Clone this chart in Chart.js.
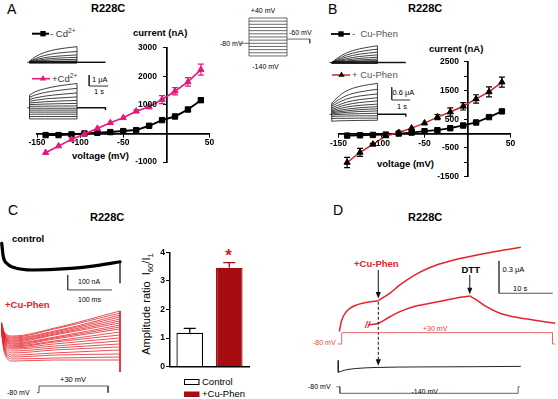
<!DOCTYPE html>
<html><head><meta charset="utf-8"><title>R228C</title>
<script src="https://cdn.jsdelivr.net/npm/chart.js"></script>
<style>
html,body{margin:0;padding:0;background:#fff;}
body{position:relative;width:558px;height:399px;overflow:hidden;font-family:"Liberation Sans",Arial,Helvetica,sans-serif;color:#000;}
canvas{position:absolute;left:0;top:0;}
.t{position:absolute;white-space:nowrap;line-height:1;transform:translateY(-50%);}
.c{transform:translate(-50%,-50%);}
.b{font-weight:bold;}
sup,sub{font-size:0.7em;line-height:0;}
</style></head><body>
<!-- Panel A -->
<div class="t" style="left:7px;top:9px;font-size:14px;">A</div>
<div class="t b" style="left:91px;top:8px;font-size:11px;">R228C</div>
<div class="t" style="left:50px;top:34px;font-size:9.5px;color:#333;">- Cd<sup>2+</sup></div>
<div class="t" style="left:52px;top:79px;font-size:9.5px;color:#333;">+Cd<sup>2+</sup></div>
<div class="t" style="left:92px;top:80px;font-size:7.5px;">1 μA</div>
<div class="t c" style="left:99px;top:92px;font-size:7.5px;">1 s</div>
<div class="t b" style="left:133px;top:33px;font-size:9.5px;">current (nA)</div>
<div class="t b" style="left:72px;top:156px;font-size:9.5px;">voltage (mV)</div>
<div class="t c" style="left:263px;top:10px;font-size:7px;">+40 mV</div>
<div class="t" style="left:289px;top:32px;font-size:7px;">-60 mV</div>
<div class="t" style="left:220px;top:43px;font-size:7px;">-80 mV</div>
<div class="t c" style="left:265.5px;top:66px;font-size:7px;">-140 mV</div>
<!-- Panel B -->
<div class="t" style="left:328px;top:9px;font-size:14px;">B</div>
<div class="t b" style="left:408px;top:8px;font-size:11px;">R228C</div>
<div class="t" style="left:352px;top:34px;font-size:9.5px;color:#555;">-&nbsp; Cu-Phen</div>
<div class="t" style="left:352px;top:75px;font-size:9.5px;color:#555;">+ Cu-Phen</div>
<div class="t" style="left:392.5px;top:93px;font-size:7.5px;">0.6 μA</div>
<div class="t c" style="left:402px;top:107px;font-size:7.5px;">1 s</div>
<div class="t b" style="left:429px;top:49px;font-size:9.5px;">current (nA)</div>
<div class="t b" style="left:377px;top:164px;font-size:9.5px;">voltage (mV)</div>
<!-- Panel C -->
<div class="t" style="left:8px;top:210px;font-size:14px;">C</div>
<div class="t b" style="left:90px;top:217px;font-size:11px;">R228C</div>
<div class="t b" style="left:12px;top:239px;font-size:9.5px;">control</div>
<div class="t" style="left:78px;top:281px;font-size:7px;">100 nA</div>
<div class="t" style="left:78px;top:299px;font-size:7px;">100 ms</div>
<div class="t b" style="left:5px;top:305px;font-size:9.5px;color:#e3242b;">+Cu-Phen</div>
<div class="t" style="left:60px;top:379.5px;font-size:7.5px;">+30 mV</div>
<div class="t" style="left:7px;top:392px;font-size:7px;">-80 mV</div>
<div class="t" style="left:146px;top:304px;font-size:11px;transform:translate(-50%,-50%) rotate(-90deg);">Amplitude ratio&nbsp; I<sub>60</sub>/I<sub>1</sub></div>
<div class="t c b" style="left:228.5px;top:255px;font-size:17px;color:#d7191c;">*</div>
<div class="t" style="left:202px;top:382px;font-size:9.5px;">Control</div>
<div class="t" style="left:202px;top:394px;font-size:9.5px;">+Cu-Phen</div>
<!-- Panel D -->
<div class="t" style="left:333px;top:210px;font-size:14px;">D</div>
<div class="t b" style="left:408px;top:217px;font-size:11px;">R228C</div>
<div class="t b" style="left:354px;top:264px;font-size:9.5px;color:#e3242b;">+Cu-Phen</div>
<div class="t b" style="left:461.5px;top:270px;font-size:9.5px;">DTT</div>
<div class="t" style="left:502.5px;top:270px;font-size:7.5px;">0.3 μA</div>
<div class="t" style="left:513px;top:289px;font-size:7.5px;">10 s</div>
<div class="t" style="left:313px;top:342px;font-size:7px;color:#e04040;">-80 mV</div>
<div class="t" style="left:423px;top:328px;font-size:7px;color:#e04040;">+30 mV</div>
<div class="t b" style="left:365px;top:325px;font-size:9px;font-style:italic;color:#e3242b;">//</div>
<div class="t" style="left:308px;top:386px;font-size:7px;">-80 mV</div>
<div class="t" style="left:411.5px;top:391px;font-size:7px;">-140 mV</div>

<script>
// ================= DATA =================
// Panel A/B: I-V curves (nA) at step voltages (mV)
const voltages = [-140, -125, -110, -95, -80, -65, -50, -35, -20, -5, 10, 25, 40];
const ivA_minusCd     = [-58, -58, -35, 0, 23, 47, 81, 116, 267, 465, 593, 837, 1163];
const ivA_minusCd_err = [0, 0, 0, 0, 0, 0, 0, 0, 20, 25, 30, 40, 70];
const ivA_plusCd      = [-674, -442, -209, -23, 174, 372, 547, 779, 930, 1186, 1477, 1802, 2233];
const ivA_plusCd_err  = [0, 0, 0, 0, 0, 0, 0, 50, 60, 140, 125, 150, 195];
const ivB_minusCuPhen     = [-70, -60, -47, -35, 0, 35, 82, 117, 187, 281, 386, 573, 772];
const ivB_minusCuPhen_err = [0, 0, 0, 0, 0, 0, 0, 0, 0, 20, 20, 30, 45];
const ivB_plusCuPhen      = [-1006, -655, -374, -82, 35, 190, 363, 573, 750, 950, 1205, 1450, 1790];
const ivB_plusCuPhen_err  = [180, 140, 30, 0, 0, 0, 0, 90, 145, 130, 145, 175, 175];
// tick labels
const ivXTickLabels  = [-150, -100, -50, 50];
const ivAYTickLabels = [3000, 2000, 1000, -1000];
const ivBYTickLabels = [2500, 1500, 500, -500, -1500];
const barYTickLabels = [0, 1, 2, 3, 4];

// Inset current families (μA) sampled at insetTimes (s), one row per step voltage (+40 ... -140)
const insetTimes = [0, 0.3, 0.8, 1.5, 2.5];
const insetTailEnd = 4.0;
const famA_minusCd = [
  [0.10, 0.50, 0.90, 1.20, 1.42], [0.06, 0.33, 0.62, 0.84, 0.98], [0.04, 0.22, 0.42, 0.56, 0.67],
  [0.03, 0.14, 0.28, 0.38, 0.45], [0.02, 0.09, 0.17, 0.23, 0.27], [0.01, 0.05, 0.08, 0.10, 0.12],
  [0.00, 0.03, 0.05, 0.06, 0.07], [0.00, 0.01, 0.03, 0.04, 0.04], [0.00, 0.01, 0.01, 0.02, 0.02],
  [-0.01, -0.01, -0.01, -0.01, -0.01], [-0.03, -0.03, -0.03, -0.03, -0.03],
  [-0.05, -0.05, -0.05, -0.05, -0.05], [-0.07, -0.06, -0.06, -0.06, -0.06]
];
const famA_plusCd = [
  [1.15, 1.45, 1.72, 1.97, 2.20], [0.95, 1.15, 1.38, 1.57, 1.76], [0.76, 0.89, 1.05, 1.19, 1.34],
  [0.59, 0.67, 0.79, 0.88, 0.98], [0.43, 0.47, 0.54, 0.60, 0.66], [0.28, 0.30, 0.33, 0.36, 0.39],
  [0.12, 0.13, 0.14, 0.15, 0.16], [-0.05, -0.05, -0.05, -0.05, -0.05], [-0.22, -0.22, -0.22, -0.22, -0.22],
  [-0.40, -0.40, -0.40, -0.40, -0.40], [-0.59, -0.59, -0.59, -0.59, -0.59],
  [-0.80, -0.80, -0.80, -0.80, -0.80], [-1.02, -1.02, -1.02, -1.02, -1.02]
];
const famB_minusCuPhen = [
  [0.00, 0.20, 0.45, 0.64, 0.79], [0.00, 0.14, 0.35, 0.51, 0.63], [0.00, 0.10, 0.26, 0.39, 0.49],
  [0.00, 0.07, 0.18, 0.28, 0.36], [0.00, 0.05, 0.12, 0.19, 0.25], [0.00, 0.03, 0.07, 0.12, 0.16],
  [0.00, 0.02, 0.04, 0.07, 0.09], [0.00, 0.01, 0.03, 0.04, 0.05], [0.00, 0.00, 0.01, 0.02, 0.02],
  [-0.01, -0.01, -0.01, -0.01, -0.01], [-0.02, -0.02, -0.02, -0.02, -0.02],
  [-0.03, -0.03, -0.03, -0.03, -0.03], [-0.04, -0.04, -0.04, -0.04, -0.04]
];
const famB_plusCuPhen = [
  [0.52, 0.78, 1.10, 1.31, 1.46], [0.45, 0.64, 0.88, 1.05, 1.18], [0.38, 0.52, 0.72, 0.86, 0.96],
  [0.30, 0.41, 0.57, 0.69, 0.78], [0.23, 0.32, 0.45, 0.55, 0.63], [0.17, 0.24, 0.34, 0.42, 0.48],
  [0.12, 0.17, 0.24, 0.31, 0.36], [0.07, 0.11, 0.16, 0.22, 0.26], [0.02, 0.05, 0.09, 0.13, 0.16],
  [-0.03, -0.01, 0.01, 0.03, 0.05], [-0.10, -0.09, -0.08, -0.07, -0.07],
  [-0.20, -0.19, -0.19, -0.18, -0.18], [-0.33, -0.31, -0.30, -0.29, -0.28]
];
// voltage protocol (mV)
const protoHold = -80, protoTail = -60;

// Panel C: control trace (ms, nA)
const ctrlTimes   = [0.5, 4, 11.7, 26.6, 71.8, 147, 222, 267.5];
const ctrlCurrent = [0, -89, -133, -160, -178, -169, -145, -123];
const ctrlOffCurrent = -267;
// +Cu-Phen traces (nA) at cuTimes (ms)
const cuTimes = [0, 6, 25, 120, 267.5];
const cuTraces = [
  [53, -13, -40, 13, 127], [47, -20, -47, 7, 113], [47, -20, -53, -7, 100], [40, -27, -60, -13, 87],
  [40, -27, -67, -20, 73], [33, -33, -73, -27, 60], [33, -33, -80, -33, 47], [27, -40, -87, -47, 33],
  [27, -40, -93, -53, 20], [20, -47, -100, -60, 7], [20, -53, -107, -73, -13], [13, -60, -113, -80, -33],
  [13, -67, -120, -93, -53], [7, -73, -127, -107, -73], [7, -80, -140, -120, -93], [0, -93, -153, -133, -113],
  [0, -107, -167, -153, -133], [-7, -120, -180, -167, -160], [-13, -133, -193, -187, -180], [-13, -147, -207, -200, -200]
];
const cuOffCurrent = -280;
const cProtoTimes = [-4.5, 0, 0, 156, 156];
const cProtoMv    = [-80, -80, 30, 30, -80];
// bar chart
const barCats = ['Control', '+Cu-Phen'];
const barVals = [1.19, 3.46];
const barErr  = [0.15, 0.18];

// Panel D: continuous recordings (s, μA)
const dTopTimes   = [0, 0.41, 1.25, 2.74, 4.97, 7.26, 9.44, 11.3, 14.1, 16.9, 20.6, 24.3, 28.1, 33.8];
const dTopCurrent = [0.077, 0.176, 0.26, 0.316, 0.348, 0.365, 0.436, 0.511, 0.604, 0.673, 0.733, 0.775, 0.812, 0.861];
const dMidTimes   = [5.4, 7.26, 9.44, 11.3, 13.78, 16.9, 20.0, 22.5, 24.3, 25.6, 27.4, 29.9, 32.4, 36.1, 40.2];
const dMidCurrent = [0.139, 0.155, 0.216, 0.263, 0.309, 0.341, 0.371, 0.396, 0.409, 0.371, 0.309, 0.248, 0.216, 0.186, 0.155];
const dBotTimes   = [-0.19, 1, 3, 7, 15, 25, 33.8];
const dBotCurrent = [-0.30, -0.28, -0.265, -0.255, -0.25, -0.248, -0.245];
const dBotOnset = -0.19;
const dCuPhenTime = 7.26, dDttTime = 24.3;
const dRedProtoTimes = [-0.3, 0.45, 0.45, 39.7, 39.7, 40.2];
const dRedProtoMv    = [-80, -80, 30, 30, -80, -80];
const dBlkProtoTimes = [-0.5, 0.1, 0.1, 33.3, 33.3, 33.6];
const dBlkProtoMv    = [-80, -80, -140, -140, -80, -80];

// ================= HELPERS =================
const W = 558, H = 399;
Chart.defaults.font.family = '"Liberation Sans", Arial, Helvetica, sans-serif';
Chart.defaults.color = '#000';
const TICK_FONT = 'bold 8.5px "Liberation Sans", Arial, sans-serif';
const PINK = '#e5197b', RED = '#e3242b', DARKRED = '#a50d12';

function newCanvas() {
  const c = document.createElement('canvas');
  c.width = W; c.height = H;
  c.style.width = W + 'px'; c.style.height = H + 'px';
  document.body.appendChild(c);
  return c;
}
function pad(a) { return {left: a.l, top: a.t, right: W - a.r, bottom: H - a.b}; }
function rangeX(a, px0, v0, ppu) { return {min: v0 + (a.l - px0) / ppu, max: v0 + (a.r - px0) / ppu}; }
function rangeY(a, px0, v0, ppu) { return {min: v0 - (a.b - px0) / ppu, max: v0 + (px0 - a.t) / ppu}; }
function pts(xs, ys) { return xs.map((x, i) => ({x: x, y: ys[i]})); }
function ds(xs, ys, color, w, extra) {
  return Object.assign({data: pts(xs, ys), borderColor: color, backgroundColor: color, borderWidth: w,
    pointRadius: 0, tension: 0, fill: false, clip: false}, extra || {});
}
function curve(xs, ys, color, w, extra) { return ds(xs, ys, color, w, Object.assign({cubicInterpolationMode: 'monotone'}, extra || {})); }
function baseOptions(area) {
  return {responsive: false, animation: false, devicePixelRatio: 1, events: [],
    layout: {padding: pad(area)},
    plugins: {legend: {display: false}, tooltip: {enabled: false}, title: {display: false}}};
}
function traceChart(area, xr, yr, datasets, plugins) {
  const opts = baseOptions(area);
  opts.scales = {
    x: {type: 'linear', display: false, min: xr.min, max: xr.max},
    y: {type: 'linear', display: false, min: yr.min, max: yr.max}
  };
  return new Chart(newCanvas(), {type: 'line', data: {datasets: datasets}, options: opts, plugins: plugins || []});
}
function family(times, rows, color, w, tailEnd, tailTick) {
  const t0 = times[0], t1 = times[times.length - 1];
  const out = rows.map(r => curve(times, r, color, w));
  const first = rows.map(r => r[0]), last = rows.map(r => r[r.length - 1]);
  out.push(ds([t0, t0], [Math.min(0, ...first), Math.max(0, ...first)], color, w));
  out.push(ds([t1, t1], [Math.min(0, ...last), Math.max(0, ...last)], color, w));
  out.push(ds([t0 - 0.12, t0], [0, 0], color, w));
  const tx = [t1, tailEnd], ty = [0, 0];
  if (tailTick) { tx.push(tailEnd); ty.push(tailTick); }
  out.push(ds(tx, ty, color, w * 1.8));
  return out;
}
function scaleBar(x0, y0, dx, dy, color) { return ds([x0, x0, x0 + dx], [y0 + dy, y0, y0], color || '#444', 1); }

const errorBarPlugin = {
  id: 'errbars',
  afterDatasetsDraw(chart) {
    const ctx = chart.ctx, ys = chart.scales.y;
    chart.data.datasets.forEach((d, di) => {
      if (!d.errors) return;
      const meta = chart.getDatasetMeta(di);
      ctx.save();
      ctx.lineWidth = d.errorWidth || 1.2;
      meta.data.forEach((el, i) => {
        const e = d.errors[i]; if (!e) return;
        const raw = d.data[i]; const v = (typeof raw === 'object') ? raw.y : raw;
        const col = Array.isArray(d.errorColor) ? d.errorColor[i] : (d.errorColor || '#000');
        ctx.strokeStyle = col;
        const px = el.x, top = ys.getPixelForValue(v + e);
        const bot = d.errorUpOnly ? ys.getPixelForValue(v) : ys.getPixelForValue(v - e);
        const cw = d.errorCap || 3;
        ctx.beginPath();
        ctx.moveTo(px, top); ctx.lineTo(px, bot);
        ctx.moveTo(px - cw, top); ctx.lineTo(px + cw, top);
        if (!d.errorUpOnly) { ctx.moveTo(px - cw, bot); ctx.lineTo(px + cw, bot); }
        ctx.stroke();
      });
      ctx.restore();
    });
  }
};
function axisLabels(xVals, yVals, xAxisAtY, yAxisAtX, xOff, yOff) {
  return {id: 'axisLabels', afterDraw(chart) {
    const ctx = chart.ctx, xs = chart.scales.x, ys = chart.scales.y;
    const axisY = ys.getPixelForValue(xAxisAtY), axisX = xs.getPixelForValue(yAxisAtX);
    ctx.save(); ctx.font = TICK_FONT; ctx.fillStyle = '#000'; ctx.textBaseline = 'middle';
    ctx.textAlign = 'center';
    xVals.forEach(v => ctx.fillText(String(v), xs.getPixelForValue(v), axisY + xOff));
    ctx.textAlign = 'right';
    yVals.forEach(v => ctx.fillText(String(v), axisX - yOff, ys.getPixelForValue(v)));
    ctx.restore();
  }};
}
function marker(ctx, style, x, y, r, color) {
  ctx.fillStyle = color; ctx.beginPath();
  if (style === 'rect') { const s = r * Math.SQRT2; ctx.rect(x - s / 2, y - s / 2, s, s); }
  else { for (let k = 0; k < 3; k++) { const a = k * 2 * Math.PI / 3; ctx.lineTo(x + Math.sin(a) * r, y - Math.cos(a) * r); } ctx.closePath(); }
  ctx.fill();
}
function ivLegend(items) {
  return {id: 'ivLegend', afterDraw(chart) {
    const ctx = chart.ctx;
    items.forEach(it => {
      const d = chart.data.datasets[it.ds];
      ctx.save(); ctx.strokeStyle = d.borderColor; ctx.lineWidth = d.borderWidth;
      ctx.beginPath(); ctx.moveTo(it.x0, it.y); ctx.lineTo(it.x1, it.y); ctx.stroke();
      marker(ctx, d.pointStyle, it.mx, it.y, d.pointRadius, d.pointBackgroundColor);
      ctx.restore();
    });
  }};
}
const axisGrid = {display: true, drawOnChartArea: false, drawTicks: true, tickLength: 3, tickWidth: 1, tickColor: '#000', color: '#000'};
const axisBorder = {display: true, color: '#000', width: 1.7};
function ivChart(area, yMin, yMax, yStep, datasets, yLabels, yOff, legendItems) {
  const opts = baseOptions(area);
  opts.scales = {
    x: {type: 'linear', min: -150, max: 50, position: {y: 0}, ticks: {display: false, stepSize: 50}, grid: axisGrid, border: axisBorder},
    y: {type: 'linear', min: yMin, max: yMax, position: {x: 0}, ticks: {display: false, stepSize: yStep}, grid: axisGrid, border: axisBorder}
  };
  return new Chart(newCanvas(), {type: 'line', data: {datasets: datasets}, options: opts,
    plugins: [errorBarPlugin, axisLabels(ivXTickLabels, yLabels, 0, 0, 9.7, yOff), ivLegend(legendItems)]});
}

// ================= PANEL A =================
ivChart({l: 37, r: 209.5, t: 47.7, b: 162}, -1000, 3000, 1000, [
  ds(voltages, ivA_plusCd, PINK, 1.6, {pointStyle: 'triangle', pointRadius: 3.6, pointBackgroundColor: PINK, pointBorderColor: PINK, pointBorderWidth: 1, errors: ivA_plusCd_err, errorColor: PINK, clip: undefined}),
  ds(voltages, ivA_minusCd, '#000', 2, {pointStyle: 'rect', pointRadius: 3.8, pointBackgroundColor: '#000', pointBorderColor: '#000', pointBorderWidth: 1, errors: ivA_minusCd_err, errorColor: '#000', clip: undefined})
], ivAYTickLabels, 9.5, [
  {ds: 1, x0: 32, x1: 49, mx: 43, y: 33.7},
  {ds: 0, x0: 32, x1: 50, mx: 43, y: 78.7}
]);

const areaA1 = {l: 24, r: 112, t: 38, b: 68};
traceChart(areaA1, rangeX(areaA1, 29.5, 0, 19), rangeY(areaA1, 62.3, 0, 11),
  family(insetTimes, famA_minusCd, '#111', 0.8, insetTailEnd, 0));
const areaA2 = {l: 24, r: 114, t: 70, b: 123};
traceChart(areaA2, rangeX(areaA2, 29.5, 0, 19), rangeY(areaA2, 107.7, 0, 11),
  family(insetTimes, famA_plusCd, '#111', 0.8, insetTailEnd, -0.2).concat([scaleBar(3.14, 1.97, 1, 1, '#333')]));

// voltage protocol
const areaP = {l: 234, r: 318, t: 12, b: 60};
const protoSets = voltages.map(v => ds([0, 2.5], [v, v], '#444', 0.8));
protoSets.push(ds([0, 0], [Math.min(...voltages), Math.max(...voltages)], '#444', 0.8));
protoSets.push(ds([2.5, 2.5], [Math.min(...voltages), Math.max(...voltages)], '#444', 0.8));
protoSets.push(ds([-0.6, 0], [protoHold, protoHold], '#444', 0.8));
protoSets.push(ds([2.5, insetTailEnd, insetTailEnd], [protoTail, protoTail, protoHold], '#444', 0.8));
traceChart(areaP, rangeX(areaP, 249, 0, 15.2), rangeY(areaP, 43.3, -80, 0.211), protoSets);

// ================= PANEL B =================
ivChart({l: 338.5, r: 510.5, t: 61.7, b: 176.7}, -1500, 2500, 500, [
  ds(voltages, ivB_plusCuPhen, '#d0202a', 1.5, {pointStyle: 'triangle', pointRadius: 3.6, pointBackgroundColor: '#000', pointBorderColor: '#000', pointBorderWidth: 1, errors: ivB_plusCuPhen_err, errorColor: '#000', clip: undefined}),
  ds(voltages, ivB_minusCuPhen, '#000', 1.8, {pointStyle: 'rect', pointRadius: 3.8, pointBackgroundColor: '#000', pointBorderColor: '#000', pointBorderWidth: 1, errors: ivB_minusCuPhen_err, errorColor: '#000', clip: undefined})
], ivBYTickLabels, 8.5, [
  {ds: 1, x0: 331, x1: 350, mx: 341, y: 34},
  {ds: 0, x0: 332, x1: 350, mx: 341.5, y: 75}
]);
const areaB1 = {l: 326, r: 412, t: 40, b: 68};
traceChart(areaB1, rangeX(areaB1, 331.7, 0, 18.3), rangeY(areaB1, 62.5, 0, 21.2),
  family(insetTimes, famB_minusCuPhen, '#111', 0.8, 4.05, 0));
const areaB2 = {l: 326, r: 414, t: 80, b: 128};
traceChart(areaB2, rangeX(areaB2, 331.7, 0, 18.3), rangeY(areaB2, 114.3, 0, 21.2),
  family(insetTimes, famB_plusCuPhen, '#111', 0.8, 4.05, -0.12).concat([scaleBar(3.28, 0.675, 1, 0.6, '#333')]));

// ================= PANEL C =================
const areaC1 = {l: 0, r: 126, t: 236, b: 296};
traceChart(areaC1, rangeX(areaC1, 1.5, 0, 0.443), rangeY(areaC1, 243.3, 0, 0.15), [
  curve(ctrlTimes, ctrlCurrent, '#000', 3.2, {borderCapStyle: 'round'}),
  ds([ctrlTimes[ctrlTimes.length - 1], ctrlTimes[ctrlTimes.length - 1]], [ctrlCurrent[ctrlCurrent.length - 1], ctrlOffCurrent], '#000', 1.2),
  scaleBar(149.4, -311, 100, 100, '#444')
]);
const areaC2 = {l: 0, r: 126, t: 303, b: 378};
const cuSets = cuTraces.map(r => curve(cuTimes, r, RED, 0.8));
cuSets.push(ds([cuTimes[cuTimes.length - 1], cuTimes[cuTimes.length - 1]], [Math.max(...cuTraces.map(r => r[r.length - 1])), cuOffCurrent], RED, 1));
traceChart(areaC2, rangeX(areaC2, 1.5, 0, 0.443), rangeY(areaC2, 330, 0, 0.15), cuSets);
const areaC3 = {l: 30, r: 116, t: 382, b: 397};
traceChart(areaC3, rangeX(areaC3, 39, 0, 0.443), rangeY(areaC3, 392.7, -80, 0.061), [ds(cProtoTimes, cProtoMv, '#444', 0.9)]);

// bar chart
const barArea = {l: 170, r: 249, t: 252.3, b: 366.7};
const barOpts = baseOptions(barArea);
barOpts.scales = {
  x: {type: 'category', offset: true, position: {y: 0}, ticks: {display: false}, grid: {display: false}, border: {display: true, color: '#000', width: 1.5}},
  y: {type: 'linear', min: 0, max: 4, position: {x: -0.5}, ticks: {display: false, stepSize: 1}, grid: axisGrid, border: {display: true, color: '#000', width: 1.5}}
};
const barLegend = {id: 'barLegend', afterDraw(chart) {
  const ctx = chart.ctx, d = chart.data.datasets[0];
  ctx.save(); ctx.lineWidth = 1;
  ctx.fillStyle = d.backgroundColor[0]; ctx.strokeStyle = d.borderColor[0];
  ctx.fillRect(184.5, 379.5, 14.5, 5); ctx.strokeRect(184.5, 379.5, 14.5, 5);
  ctx.fillStyle = d.backgroundColor[1];
  ctx.fillRect(184, 391.5, 15.5, 5.5);
  ctx.restore();
}};
new Chart(newCanvas(), {type: 'bar', data: {labels: barCats, datasets: [{
  data: barVals, errors: barErr, errorUpOnly: true, errorCap: 6, errorWidth: 1.3, errorColor: ['#000', DARKRED],
  backgroundColor: ['#ffffff', DARKRED], borderColor: ['#000000', DARKRED], borderWidth: 1.3,
  barPercentage: 0.675, categoryPercentage: 1
}]}, options: barOpts, plugins: [errorBarPlugin, axisLabels([], barYTickLabels, 0, -0.5, 0, 5), barLegend]});

// ================= PANEL D =================
const areaD = {l: 330, r: 558, t: 240, b: 380};
const iCu = dTopTimes.indexOf(dCuPhenTime), iDtt = dMidTimes.indexOf(dDttTime);
const dArrows = [
  {t: dCuPhenTime, from: 0.65, to: 0.385, dash: false},
  {t: dCuPhenTime, from: 0.355, to: -0.24, dash: true},
  {t: dDttTime, from: 0.604, to: 0.424, dash: false}
];
const arrowPlugin = {id: 'arrows', afterDatasetsDraw(chart) {
  const ctx = chart.ctx, xs = chart.scales.x, ys = chart.scales.y;
  ctx.save(); ctx.strokeStyle = '#111'; ctx.fillStyle = '#111'; ctx.lineWidth = 1;
  dArrows.forEach(a => {
    const x = xs.getPixelForValue(a.t), y0 = ys.getPixelForValue(a.from), y1 = ys.getPixelForValue(a.to);
    ctx.setLineDash(a.dash ? [3, 2] : []);
    ctx.beginPath(); ctx.moveTo(x, y0); ctx.lineTo(x, y1 - 5); ctx.stroke();
    ctx.setLineDash([]);
    ctx.beginPath(); ctx.moveTo(x, y1); ctx.lineTo(x - 2.6, y1 - 6.5); ctx.lineTo(x + 2.6, y1 - 6.5); ctx.closePath(); ctx.fill();
  });
  ctx.restore();
}};
traceChart(areaD, rangeX(areaD, 339.3, 0, 5.37), rangeY(areaD, 340, 0, 107.7), [
  curve(dTopTimes.slice(0, iCu + 1), dTopCurrent.slice(0, iCu + 1), RED, 1.5),
  curve(dTopTimes.slice(iCu), dTopCurrent.slice(iCu), RED, 1.5),
  curve(dMidTimes.slice(0, iDtt + 1), dMidCurrent.slice(0, iDtt + 1), RED, 1.5),
  curve(dMidTimes.slice(iDtt), dMidCurrent.slice(iDtt), RED, 1.5),
  ds([dBotOnset, dBotOnset], [-0.19, dBotCurrent[0]], '#222', 1),
  curve(dBotTimes, dBotCurrent, '#222', 1),
  scaleBar(29.74, 0.434, 10, 0.3, '#555')
], [arrowPlugin]);
const areaDr = {l: 330, r: 558, t: 328, b: 348};
traceChart(areaDr, rangeX(areaDr, 339.3, 0, 5.37), rangeY(areaDr, 344, -80, 0.103), [ds(dRedProtoTimes, dRedProtoMv, '#e46a6a', 1)]);
const areaDb = {l: 330, r: 558, t: 382, b: 397};
traceChart(areaDb, rangeX(areaDb, 339.3, 0, 5.37), rangeY(areaDb, 386.7, -80, 0.11), [ds(dBlkProtoTimes, dBlkProtoMv, '#555', 0.9)]);
</script>
</body></html>
